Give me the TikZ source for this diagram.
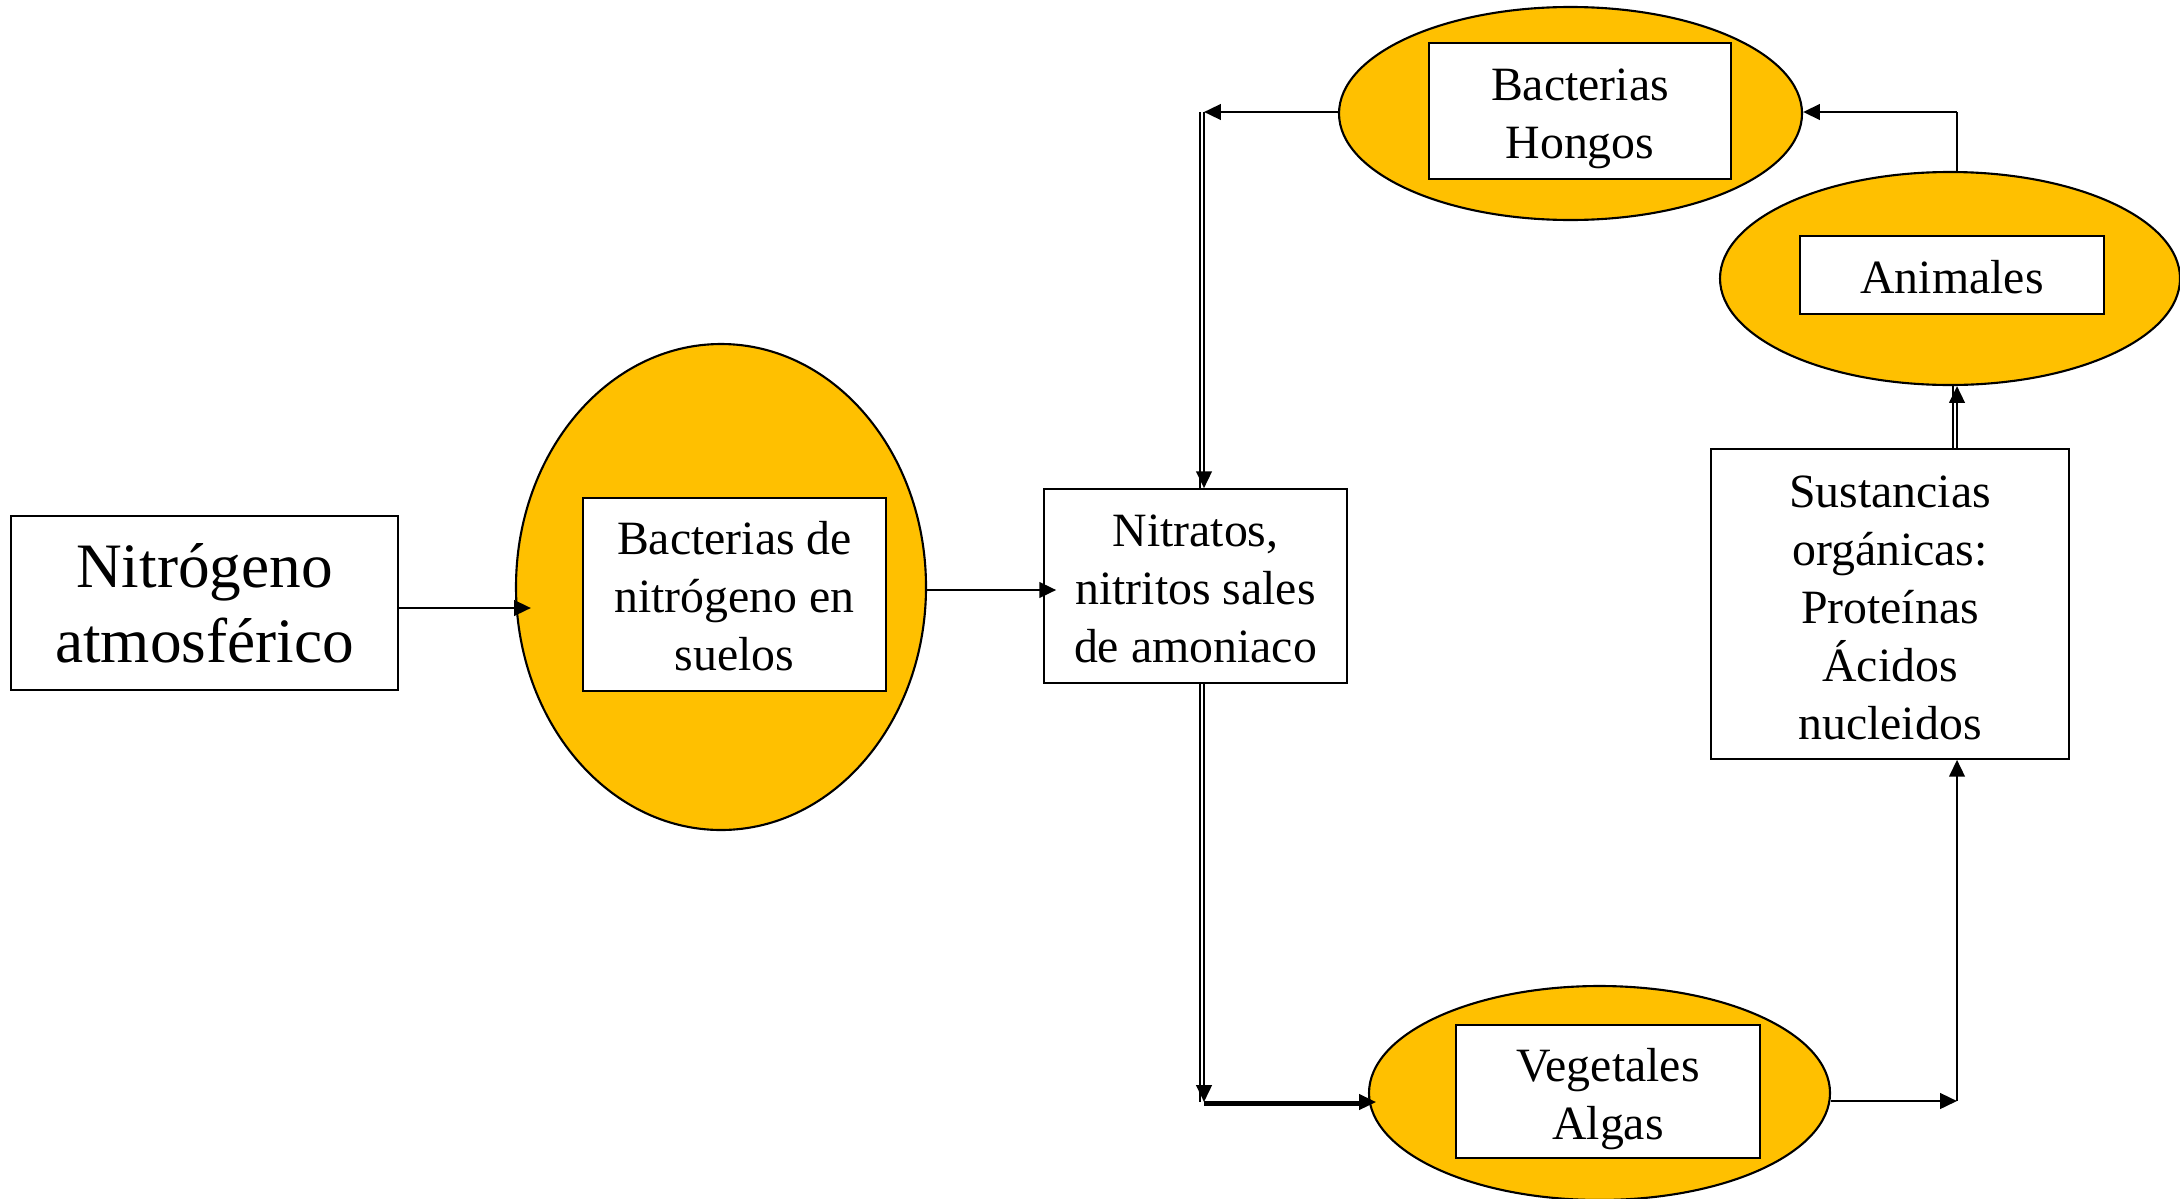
\documentclass[tikz,border=0pt]{standalone}
\usepackage{fontspec}
\setmainfont{Liberation Serif}
\usetikzlibrary{shapes.geometric,arrows.meta}
\definecolor{gold}{RGB}{255,192,0}

\begin{document}
\begin{tikzpicture}[
  box/.style={draw, line width=0.45pt, fill=white, inner sep=0pt, align=center,
    font=\fontsize{13.6}{16.5}\selectfont},
  blob/.style={draw, ellipse, line width=0.6pt, fill=gold, inner sep=0pt},
  arr/.style={line width=0.75pt, -{Triangle[length=4.8pt,width=4.4pt]}},
  twin/.style={line width=0.75pt}]
\useasboundingbox (0,0) rectangle (21.8,-11.98);
% left part
\node[box, minimum width=3.87cm, minimum height=1.74cm, font=\fontsize{18}{21.3}\selectfont]
  (atm) at (2.045,-6.03) {Nitrógeno\\atmosférico};
\node[blob, minimum width=4.10cm, minimum height=4.86cm] (fixell) at (7.21,-5.87) {};
\node[box, minimum width=3.03cm, minimum height=1.93cm, text height=43.4pt, text depth=0pt]
  (fixbox) at (7.345,-5.945) {Bacterias de\\nitrógeno en\\suelos};
\node[box, minimum width=3.03cm, minimum height=1.94cm, text height=43.4pt, text depth=0pt]
  (nit) at (11.955,-5.86) {Nitratos,\\nitritos sales\\de amoniaco};
% ellipses on the right
\node[blob, minimum width=4.63cm, minimum height=2.13cm] (decell) at (15.705,-1.135) {};
\node[box, minimum width=3.02cm, minimum height=1.36cm, text height=30.3pt, text depth=3pt]
  (decbox) at (15.80,-1.11) {Bacterias\\Hongos};
\node[blob, minimum width=4.60cm, minimum height=2.13cm] (animell) at (19.50,-2.785) {};
\node[box, minimum width=3.04cm, minimum height=0.78cm, text height=10.6pt, text depth=0pt]
  (animbox) at (19.52,-2.75) {Animales};
\node[box, minimum width=3.58cm, minimum height=3.10cm, text height=77pt, text depth=0pt]
  (sust) at (18.90,-6.04) {Sustancias\\orgánicas:\\Proteínas\\Ácidos\\nucleidos};
\node[blob, minimum width=4.61cm, minimum height=2.14cm] (vegell) at (15.995,-10.93) {};
\node[box, minimum width=3.04cm, minimum height=1.33cm, text height=30.5pt, text depth=3pt]
  (vegbox) at (16.08,-10.915) {Vegetales\\Algas};
% corners
\coordinate (cL) at (12.04,-1.12);
\coordinate (cB) at (12.04,-11.02);
\coordinate (cR) at (19.57,-11.01);
\coordinate (cT) at (19.57,-1.12);
% arrows
\draw[arr, shorten >=-1.6mm] (atm.east |- 0,-6.08) -- (fixell.west |- 0,-6.08);
\draw[arr, shorten >=-1.3mm] (fixell.east |- 0,-5.90) -- (nit.west |- 0,-5.90);
\draw[arr] (decell.west |- cL) -- (cL);
\draw[arr] (cL) -- (cL |- nit.north);
\draw[twin] ([xshift=-0.4mm]cL) -- ([xshift=-0.4mm]cL |- nit.north);
\draw[arr] (cL |- nit.south) -- (cB);
\draw[twin] ([xshift=-0.4mm]cL |- nit.south) -- ([xshift=-0.4mm]cB);
\draw[arr, shorten >=-0.8mm] (cB) -- (cB -| vegell.west);
\draw[twin] ([yshift=-0.25mm]cB) -- ([yshift=-0.25mm]cB -| vegell.west);
\draw[arr] (vegell.east |- cR) -- (cR);
\draw[arr] (cR) -- (cR |- sust.south);
\draw[arr] (cR |- sust.north) -- (cR |- animell.south);
\draw[twin] ([xshift=-0.4mm]cR |- sust.north) -- ([xshift=-0.4mm]cR |- animell.south);
\draw[twin] (cR |- animell.north) -- (cT);
\draw[arr] (cT) -- (cT -| decell.east);
\end{tikzpicture}
\end{document}
